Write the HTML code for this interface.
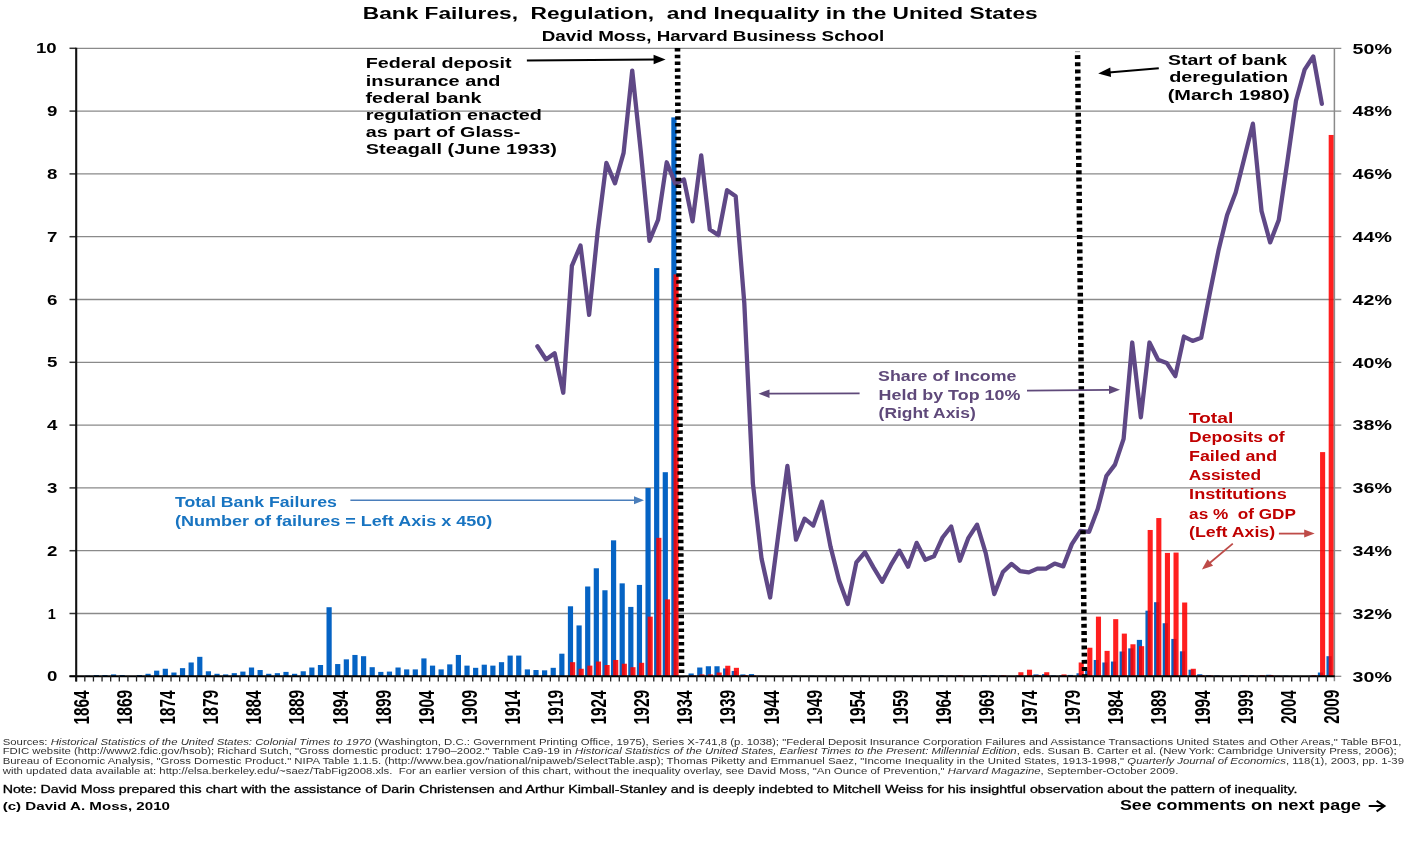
<!DOCTYPE html>
<html><head><meta charset="utf-8"><title>Bank Failures, Regulation, and Inequality in the United States</title>
<style>html,body{margin:0;padding:0;background:#fff}body{width:1405px;height:846px;overflow:hidden;font-family:"Liberation Sans",sans-serif}</style></head>
<body>
<svg width="1405" height="846" viewBox="0 0 1405 846" style="display:block;will-change:transform">
<rect width="1405" height="846" fill="#fff"/>
<line x1="76.2" y1="613.50" x2="1341.30" y2="613.50" stroke="#8a8a8a" stroke-width="1.3"/>
<line x1="76.2" y1="550.70" x2="1341.30" y2="550.70" stroke="#8a8a8a" stroke-width="1.3"/>
<line x1="76.2" y1="487.90" x2="1341.30" y2="487.90" stroke="#8a8a8a" stroke-width="1.3"/>
<line x1="76.2" y1="425.10" x2="1341.30" y2="425.10" stroke="#8a8a8a" stroke-width="1.3"/>
<line x1="76.2" y1="362.30" x2="1341.30" y2="362.30" stroke="#8a8a8a" stroke-width="1.3"/>
<line x1="76.2" y1="299.50" x2="1341.30" y2="299.50" stroke="#8a8a8a" stroke-width="1.3"/>
<line x1="76.2" y1="236.70" x2="1341.30" y2="236.70" stroke="#8a8a8a" stroke-width="1.3"/>
<line x1="76.2" y1="173.90" x2="1341.30" y2="173.90" stroke="#8a8a8a" stroke-width="1.3"/>
<line x1="76.2" y1="111.10" x2="1341.30" y2="111.10" stroke="#8a8a8a" stroke-width="1.3"/>
<line x1="76.2" y1="48.30" x2="1341.30" y2="48.30" stroke="#8a8a8a" stroke-width="1.3"/>
<line x1="69.5" y1="676.30" x2="76.2" y2="676.30" stroke="#333" stroke-width="1.5"/>
<line x1="69.5" y1="613.50" x2="76.2" y2="613.50" stroke="#333" stroke-width="1.5"/>
<line x1="69.5" y1="550.70" x2="76.2" y2="550.70" stroke="#333" stroke-width="1.5"/>
<line x1="69.5" y1="487.90" x2="76.2" y2="487.90" stroke="#333" stroke-width="1.5"/>
<line x1="69.5" y1="425.10" x2="76.2" y2="425.10" stroke="#333" stroke-width="1.5"/>
<line x1="69.5" y1="362.30" x2="76.2" y2="362.30" stroke="#333" stroke-width="1.5"/>
<line x1="69.5" y1="299.50" x2="76.2" y2="299.50" stroke="#333" stroke-width="1.5"/>
<line x1="69.5" y1="236.70" x2="76.2" y2="236.70" stroke="#333" stroke-width="1.5"/>
<line x1="69.5" y1="173.90" x2="76.2" y2="173.90" stroke="#333" stroke-width="1.5"/>
<line x1="69.5" y1="111.10" x2="76.2" y2="111.10" stroke="#333" stroke-width="1.5"/>
<line x1="69.5" y1="48.30" x2="76.2" y2="48.30" stroke="#333" stroke-width="1.5"/>
<g fill="#0563c4"><rect x="76.50" y="675.99" width="5.2" height="0.31"/><rect x="85.12" y="675.67" width="5.2" height="0.63"/><rect x="93.74" y="675.04" width="5.2" height="1.26"/><rect x="102.36" y="675.04" width="5.2" height="1.26"/><rect x="110.98" y="674.42" width="5.2" height="1.88"/><rect x="119.60" y="675.04" width="5.2" height="1.26"/><rect x="128.22" y="675.99" width="5.2" height="0.31"/><rect x="136.84" y="675.04" width="5.2" height="1.26"/><rect x="145.46" y="673.79" width="5.2" height="2.51"/><rect x="154.08" y="670.65" width="5.2" height="5.65"/><rect x="162.71" y="668.76" width="5.2" height="7.54"/><rect x="171.33" y="672.53" width="5.2" height="3.77"/><rect x="179.95" y="668.14" width="5.2" height="8.16"/><rect x="188.57" y="662.48" width="5.2" height="13.82"/><rect x="197.19" y="656.83" width="5.2" height="19.47"/><rect x="205.81" y="671.28" width="5.2" height="5.02"/><rect x="214.43" y="673.79" width="5.2" height="2.51"/><rect x="223.05" y="674.42" width="5.2" height="1.88"/><rect x="231.67" y="673.16" width="5.2" height="3.14"/><rect x="240.29" y="671.59" width="5.2" height="4.71"/><rect x="248.91" y="667.51" width="5.2" height="8.79"/><rect x="257.53" y="670.02" width="5.2" height="6.28"/><rect x="266.15" y="673.79" width="5.2" height="2.51"/><rect x="274.77" y="673.16" width="5.2" height="3.14"/><rect x="283.39" y="671.90" width="5.2" height="4.40"/><rect x="292.01" y="673.79" width="5.2" height="2.51"/><rect x="300.63" y="671.28" width="5.2" height="5.02"/><rect x="309.25" y="667.51" width="5.2" height="8.79"/><rect x="317.88" y="665.00" width="5.2" height="11.30"/><rect x="326.50" y="607.22" width="5.2" height="69.08"/><rect x="335.12" y="664.05" width="5.2" height="12.25"/><rect x="343.74" y="659.34" width="5.2" height="16.96"/><rect x="352.36" y="654.95" width="5.2" height="21.35"/><rect x="360.98" y="656.20" width="5.2" height="20.10"/><rect x="369.60" y="667.19" width="5.2" height="9.11"/><rect x="378.22" y="671.90" width="5.2" height="4.40"/><rect x="386.84" y="671.59" width="5.2" height="4.71"/><rect x="395.46" y="667.51" width="5.2" height="8.79"/><rect x="404.08" y="669.39" width="5.2" height="6.91"/><rect x="412.70" y="669.39" width="5.2" height="6.91"/><rect x="421.32" y="658.40" width="5.2" height="17.90"/><rect x="429.94" y="665.62" width="5.2" height="10.68"/><rect x="438.56" y="669.39" width="5.2" height="6.91"/><rect x="447.18" y="664.37" width="5.2" height="11.93"/><rect x="455.80" y="654.95" width="5.2" height="21.35"/><rect x="464.42" y="665.62" width="5.2" height="10.68"/><rect x="473.05" y="667.82" width="5.2" height="8.48"/><rect x="481.67" y="664.68" width="5.2" height="11.62"/><rect x="490.29" y="665.62" width="5.2" height="10.68"/><rect x="498.91" y="662.17" width="5.2" height="14.13"/><rect x="507.53" y="655.58" width="5.2" height="20.72"/><rect x="516.15" y="655.58" width="5.2" height="20.72"/><rect x="524.77" y="669.39" width="5.2" height="6.91"/><rect x="533.39" y="670.02" width="5.2" height="6.28"/><rect x="542.01" y="670.33" width="5.2" height="5.97"/><rect x="550.63" y="667.82" width="5.2" height="8.48"/><rect x="559.25" y="653.69" width="5.2" height="22.61"/><rect x="567.87" y="606.28" width="5.2" height="70.02"/><rect x="576.49" y="625.43" width="5.2" height="50.87"/><rect x="585.11" y="586.50" width="5.2" height="89.80"/><rect x="593.73" y="568.28" width="5.2" height="108.02"/><rect x="602.35" y="590.26" width="5.2" height="86.04"/><rect x="610.97" y="540.34" width="5.2" height="135.96"/><rect x="619.59" y="583.36" width="5.2" height="92.94"/><rect x="628.22" y="606.91" width="5.2" height="69.39"/><rect x="636.84" y="584.93" width="5.2" height="91.37"/><rect x="645.46" y="487.90" width="5.2" height="188.40"/><rect x="654.08" y="268.10" width="5.2" height="408.20"/><rect x="662.70" y="472.20" width="5.2" height="204.10"/><rect x="671.32" y="117.38" width="5.2" height="558.92"/><rect x="688.56" y="673.47" width="5.2" height="2.83"/><rect x="697.18" y="667.51" width="5.2" height="8.79"/><rect x="705.80" y="666.25" width="5.2" height="10.05"/><rect x="714.42" y="666.25" width="5.2" height="10.05"/><rect x="723.04" y="668.45" width="5.2" height="7.85"/><rect x="731.66" y="670.96" width="5.2" height="5.34"/><rect x="740.28" y="674.42" width="5.2" height="1.88"/><rect x="748.90" y="674.10" width="5.2" height="2.20"/><rect x="757.52" y="675.80" width="5.2" height="0.50"/><rect x="766.14" y="676.05" width="5.2" height="0.25"/><rect x="792.01" y="675.67" width="5.2" height="0.63"/><rect x="800.63" y="675.92" width="5.2" height="0.38"/><rect x="809.25" y="675.67" width="5.2" height="0.63"/><rect x="817.87" y="675.80" width="5.2" height="0.50"/><rect x="826.49" y="675.67" width="5.2" height="0.63"/><rect x="835.11" y="675.92" width="5.2" height="0.38"/><rect x="843.73" y="675.67" width="5.2" height="0.63"/><rect x="852.35" y="675.80" width="5.2" height="0.50"/><rect x="860.97" y="675.67" width="5.2" height="0.63"/><rect x="869.59" y="675.92" width="5.2" height="0.38"/><rect x="878.21" y="675.92" width="5.2" height="0.38"/><rect x="886.83" y="675.67" width="5.2" height="0.63"/><rect x="895.45" y="675.80" width="5.2" height="0.50"/><rect x="904.07" y="676.05" width="5.2" height="0.25"/><rect x="912.69" y="675.67" width="5.2" height="0.63"/><rect x="921.31" y="676.05" width="5.2" height="0.25"/><rect x="929.93" y="676.05" width="5.2" height="0.25"/><rect x="938.55" y="675.30" width="5.2" height="1.00"/><rect x="947.18" y="675.67" width="5.2" height="0.63"/><rect x="955.80" y="675.42" width="5.2" height="0.88"/><rect x="964.42" y="675.80" width="5.2" height="0.50"/><rect x="973.04" y="675.92" width="5.2" height="0.38"/><rect x="981.66" y="675.17" width="5.2" height="1.13"/><rect x="990.28" y="675.30" width="5.2" height="1.00"/><rect x="998.90" y="675.42" width="5.2" height="0.88"/><rect x="1007.52" y="675.92" width="5.2" height="0.38"/><rect x="1016.14" y="675.42" width="5.2" height="0.88"/><rect x="1024.76" y="675.67" width="5.2" height="0.63"/><rect x="1033.38" y="674.42" width="5.2" height="1.88"/><rect x="1042.00" y="674.10" width="5.2" height="2.20"/><rect x="1050.62" y="675.42" width="5.2" height="0.88"/><rect x="1059.24" y="675.30" width="5.2" height="1.00"/><rect x="1067.86" y="674.92" width="5.2" height="1.38"/><rect x="1076.48" y="673.29" width="5.2" height="3.01"/><rect x="1085.10" y="670.77" width="5.2" height="5.53"/><rect x="1093.72" y="659.97" width="5.2" height="16.33"/><rect x="1102.35" y="662.48" width="5.2" height="13.82"/><rect x="1110.97" y="661.54" width="5.2" height="14.76"/><rect x="1119.59" y="651.49" width="5.2" height="24.81"/><rect x="1128.21" y="648.35" width="5.2" height="27.95"/><rect x="1136.83" y="639.88" width="5.2" height="36.42"/><rect x="1145.45" y="610.67" width="5.2" height="65.63"/><rect x="1154.07" y="602.20" width="5.2" height="74.10"/><rect x="1162.69" y="623.23" width="5.2" height="53.07"/><rect x="1171.31" y="638.93" width="5.2" height="37.37"/><rect x="1179.93" y="651.31" width="5.2" height="24.99"/><rect x="1188.55" y="669.71" width="5.2" height="6.59"/><rect x="1197.17" y="674.29" width="5.2" height="2.01"/><rect x="1205.79" y="675.17" width="5.2" height="1.13"/><rect x="1214.41" y="675.42" width="5.2" height="0.88"/><rect x="1223.03" y="676.05" width="5.2" height="0.25"/><rect x="1231.65" y="675.80" width="5.2" height="0.50"/><rect x="1240.27" y="675.17" width="5.2" height="1.13"/><rect x="1248.89" y="675.30" width="5.2" height="1.00"/><rect x="1257.52" y="675.67" width="5.2" height="0.63"/><rect x="1266.14" y="674.79" width="5.2" height="1.51"/><rect x="1274.76" y="675.80" width="5.2" height="0.50"/><rect x="1283.38" y="675.67" width="5.2" height="0.63"/><rect x="1309.24" y="675.80" width="5.2" height="0.50"/><rect x="1317.86" y="672.53" width="5.2" height="3.77"/><rect x="1326.48" y="656.20" width="5.2" height="20.10"/></g>
<g fill="#ff0000" fill-opacity="0.88"><rect x="570.07" y="662.17" width="5.1" height="14.13"/><rect x="578.69" y="668.76" width="5.1" height="7.54"/><rect x="587.31" y="665.62" width="5.1" height="10.68"/><rect x="595.93" y="661.54" width="5.1" height="14.76"/><rect x="604.55" y="665.00" width="5.1" height="11.30"/><rect x="613.17" y="659.97" width="5.1" height="16.33"/><rect x="621.79" y="663.74" width="5.1" height="12.56"/><rect x="630.42" y="667.19" width="5.1" height="9.11"/><rect x="639.04" y="662.80" width="5.1" height="13.50"/><rect x="647.66" y="616.64" width="5.1" height="59.66"/><rect x="656.28" y="537.83" width="5.1" height="138.47"/><rect x="664.90" y="599.37" width="5.1" height="76.93"/><rect x="673.52" y="274.38" width="5.1" height="401.92"/><rect x="690.76" y="675.55" width="5.1" height="0.75"/><rect x="699.38" y="674.42" width="5.1" height="1.88"/><rect x="708.00" y="674.42" width="5.1" height="1.88"/><rect x="716.62" y="672.53" width="5.1" height="3.77"/><rect x="725.24" y="665.75" width="5.1" height="10.55"/><rect x="733.86" y="667.82" width="5.1" height="8.48"/><rect x="742.48" y="675.17" width="5.1" height="1.13"/><rect x="751.10" y="675.55" width="5.1" height="0.75"/><rect x="759.72" y="675.92" width="5.1" height="0.38"/><rect x="940.75" y="675.92" width="5.1" height="0.38"/><rect x="949.38" y="675.80" width="5.1" height="0.50"/><rect x="958.00" y="675.42" width="5.1" height="0.88"/><rect x="966.62" y="676.05" width="5.1" height="0.25"/><rect x="983.86" y="675.92" width="5.1" height="0.38"/><rect x="992.48" y="675.80" width="5.1" height="0.50"/><rect x="1001.10" y="675.42" width="5.1" height="0.88"/><rect x="1009.72" y="676.05" width="5.1" height="0.25"/><rect x="1018.34" y="672.22" width="5.1" height="4.08"/><rect x="1026.96" y="669.71" width="5.1" height="6.59"/><rect x="1035.58" y="674.92" width="5.1" height="1.38"/><rect x="1044.20" y="672.22" width="5.1" height="4.08"/><rect x="1052.82" y="675.92" width="5.1" height="0.38"/><rect x="1061.44" y="674.42" width="5.1" height="1.88"/><rect x="1070.06" y="675.92" width="5.1" height="0.38"/><rect x="1078.68" y="662.48" width="5.1" height="13.82"/><rect x="1087.30" y="647.73" width="5.1" height="28.57"/><rect x="1095.92" y="616.64" width="5.1" height="59.66"/><rect x="1104.55" y="650.87" width="5.1" height="25.43"/><rect x="1113.17" y="619.15" width="5.1" height="57.15"/><rect x="1121.79" y="633.60" width="5.1" height="42.70"/><rect x="1130.41" y="644.27" width="5.1" height="32.03"/><rect x="1139.03" y="646.16" width="5.1" height="30.14"/><rect x="1147.65" y="529.98" width="5.1" height="146.32"/><rect x="1156.27" y="518.04" width="5.1" height="158.26"/><rect x="1164.89" y="552.90" width="5.1" height="123.40"/><rect x="1173.51" y="552.58" width="5.1" height="123.72"/><rect x="1182.13" y="602.51" width="5.1" height="73.79"/><rect x="1190.75" y="668.76" width="5.1" height="7.54"/><rect x="1199.37" y="675.30" width="5.1" height="1.00"/><rect x="1207.99" y="675.55" width="5.1" height="0.75"/><rect x="1216.61" y="675.92" width="5.1" height="0.38"/><rect x="1233.85" y="676.05" width="5.1" height="0.25"/><rect x="1242.47" y="675.55" width="5.1" height="0.75"/><rect x="1251.09" y="675.92" width="5.1" height="0.38"/><rect x="1259.72" y="675.30" width="5.1" height="1.00"/><rect x="1268.34" y="675.04" width="5.1" height="1.26"/><rect x="1276.96" y="675.92" width="5.1" height="0.38"/><rect x="1311.44" y="675.30" width="5.1" height="1.00"/><rect x="1320.06" y="452.10" width="5.1" height="224.20"/><rect x="1328.68" y="134.96" width="5.1" height="541.34"/></g>
<line x1="1334.40" y1="48.30" x2="1334.40" y2="681.30" stroke="#8a8a8a" stroke-width="1.5"/>
<line x1="1334.80" y1="676.30" x2="1341.30" y2="676.30" stroke="#8a8a8a" stroke-width="1.3"/>
<line x1="69.5" y1="676.3" x2="1334.80" y2="676.3" stroke="#000" stroke-width="2"/>
<path d="M76.20 676.3V681.60M84.82 676.3V681.60M93.44 676.3V681.60M102.06 676.3V681.60M110.68 676.3V681.60M119.30 676.3V681.60M127.92 676.3V681.60M136.54 676.3V681.60M145.16 676.3V681.60M153.78 676.3V681.60M162.41 676.3V681.60M171.03 676.3V681.60M179.65 676.3V681.60M188.27 676.3V681.60M196.89 676.3V681.60M205.51 676.3V681.60M214.13 676.3V681.60M222.75 676.3V681.60M231.37 676.3V681.60M239.99 676.3V681.60M248.61 676.3V681.60M257.23 676.3V681.60M265.85 676.3V681.60M274.47 676.3V681.60M283.09 676.3V681.60M291.71 676.3V681.60M300.33 676.3V681.60M308.95 676.3V681.60M317.58 676.3V681.60M326.20 676.3V681.60M334.82 676.3V681.60M343.44 676.3V681.60M352.06 676.3V681.60M360.68 676.3V681.60M369.30 676.3V681.60M377.92 676.3V681.60M386.54 676.3V681.60M395.16 676.3V681.60M403.78 676.3V681.60M412.40 676.3V681.60M421.02 676.3V681.60M429.64 676.3V681.60M438.26 676.3V681.60M446.88 676.3V681.60M455.50 676.3V681.60M464.12 676.3V681.60M472.75 676.3V681.60M481.37 676.3V681.60M489.99 676.3V681.60M498.61 676.3V681.60M507.23 676.3V681.60M515.85 676.3V681.60M524.47 676.3V681.60M533.09 676.3V681.60M541.71 676.3V681.60M550.33 676.3V681.60M558.95 676.3V681.60M567.57 676.3V681.60M576.19 676.3V681.60M584.81 676.3V681.60M593.43 676.3V681.60M602.05 676.3V681.60M610.67 676.3V681.60M619.29 676.3V681.60M627.92 676.3V681.60M636.54 676.3V681.60M645.16 676.3V681.60M653.78 676.3V681.60M662.40 676.3V681.60M671.02 676.3V681.60M679.64 676.3V681.60M688.26 676.3V681.60M696.88 676.3V681.60M705.50 676.3V681.60M714.12 676.3V681.60M722.74 676.3V681.60M731.36 676.3V681.60M739.98 676.3V681.60M748.60 676.3V681.60M757.22 676.3V681.60M765.84 676.3V681.60M774.46 676.3V681.60M783.08 676.3V681.60M791.71 676.3V681.60M800.33 676.3V681.60M808.95 676.3V681.60M817.57 676.3V681.60M826.19 676.3V681.60M834.81 676.3V681.60M843.43 676.3V681.60M852.05 676.3V681.60M860.67 676.3V681.60M869.29 676.3V681.60M877.91 676.3V681.60M886.53 676.3V681.60M895.15 676.3V681.60M903.77 676.3V681.60M912.39 676.3V681.60M921.01 676.3V681.60M929.63 676.3V681.60M938.25 676.3V681.60M946.88 676.3V681.60M955.50 676.3V681.60M964.12 676.3V681.60M972.74 676.3V681.60M981.36 676.3V681.60M989.98 676.3V681.60M998.60 676.3V681.60M1007.22 676.3V681.60M1015.84 676.3V681.60M1024.46 676.3V681.60M1033.08 676.3V681.60M1041.70 676.3V681.60M1050.32 676.3V681.60M1058.94 676.3V681.60M1067.56 676.3V681.60M1076.18 676.3V681.60M1084.80 676.3V681.60M1093.42 676.3V681.60M1102.05 676.3V681.60M1110.67 676.3V681.60M1119.29 676.3V681.60M1127.91 676.3V681.60M1136.53 676.3V681.60M1145.15 676.3V681.60M1153.77 676.3V681.60M1162.39 676.3V681.60M1171.01 676.3V681.60M1179.63 676.3V681.60M1188.25 676.3V681.60M1196.87 676.3V681.60M1205.49 676.3V681.60M1214.11 676.3V681.60M1222.73 676.3V681.60M1231.35 676.3V681.60M1239.97 676.3V681.60M1248.59 676.3V681.60M1257.22 676.3V681.60M1265.84 676.3V681.60M1274.46 676.3V681.60M1283.08 676.3V681.60M1291.70 676.3V681.60M1300.32 676.3V681.60M1308.94 676.3V681.60M1317.56 676.3V681.60M1326.18 676.3V681.60" stroke="#222" stroke-width="1.3" fill="none"/>
<line x1="76.2" y1="47.70" x2="76.2" y2="681.60" stroke="#111" stroke-width="2.1"/>
<polyline points="537.40,346.29 546.02,359.47 554.64,353.19 563.26,392.76 571.88,265.90 580.50,245.49 589.12,314.89 597.74,230.73 606.36,162.91 614.98,183.32 623.60,152.86 632.23,70.59 640.85,151.92 649.47,240.78 658.09,219.74 666.71,162.28 675.33,183.63 683.95,179.55 692.57,221.31 701.19,155.37 709.81,229.48 718.43,235.13 727.05,190.23 735.67,196.19 744.29,302.95 752.91,483.82 761.53,558.55 770.15,597.49 778.77,531.23 787.40,465.92 796.02,539.71 804.64,518.67 813.26,525.58 821.88,501.72 830.50,546.62 839.12,580.53 847.74,604.08 856.36,562.32 864.98,552.27 873.60,567.66 882.22,581.79 890.84,565.14 899.46,550.70 908.08,566.71 916.70,542.85 925.32,559.81 933.94,556.35 942.57,537.51 951.19,526.52 959.81,560.75 968.43,537.83 977.05,524.64 985.67,552.90 994.29,594.03 1002.91,572.05 1011.53,563.89 1020.15,571.11 1028.77,572.37 1037.39,568.60 1046.01,568.60 1054.63,563.57 1063.25,566.40 1071.87,544.11 1080.49,530.92 1089.11,531.86 1097.73,508.94 1106.36,475.97 1114.98,464.66 1123.60,438.92 1132.22,342.52 1140.84,417.25 1149.46,342.52 1158.08,359.79 1166.70,362.93 1175.32,376.12 1183.94,336.55 1192.56,340.95 1201.18,337.81 1209.80,293.22 1218.42,250.83 1227.04,215.35 1235.66,192.43 1244.28,158.20 1252.90,123.66 1261.53,210.95 1270.15,242.35 1278.77,220.06 1287.39,161.34 1296.01,100.74 1304.63,69.65 1313.25,56.46 1321.87,103.88" fill="none" stroke="#5f4886" stroke-width="4.3" stroke-linejoin="round" stroke-linecap="round"/>
<line x1="677.5" y1="47.9" x2="681.6" y2="677.3" stroke="#000" stroke-width="5.6" stroke-dasharray="3.5 3.33"/>
<line x1="1077.6" y1="55.1" x2="1084.6" y2="677.3" stroke="#000" stroke-width="5.5" stroke-dasharray="3.9 3.3"/>
<line x1="1075" y1="51.6" x2="1080" y2="51.6" stroke="#aaa" stroke-width="1.2"/>
<line x1="526.90" y1="60.50" x2="655.60" y2="59.48" stroke="#000" stroke-width="2.0"/>
<polygon points="665.60,59.40 653.64,64.25 653.56,54.75" fill="#000"/>
<line x1="1158.80" y1="68.20" x2="1108.66" y2="72.50" stroke="#000" stroke-width="2.0"/>
<polygon points="1098.20,73.40 1110.25,67.60 1111.06,77.06" fill="#000"/>
<line x1="859.60" y1="393.40" x2="767.50" y2="393.67" stroke="#5f497a" stroke-width="1.8"/>
<polygon points="758.50,393.70 769.49,389.42 769.51,397.92" fill="#5f497a"/>
<line x1="1027.00" y1="390.60" x2="1111.00" y2="389.79" stroke="#5f497a" stroke-width="1.8"/>
<polygon points="1120.00,389.70 1109.04,394.06 1108.96,385.56" fill="#5f497a"/>
<line x1="350.40" y1="500.30" x2="636.00" y2="500.30" stroke="#4a7ebb" stroke-width="1.6"/>
<polygon points="644.00,500.30 634.00,504.30 634.00,496.30" fill="#4a7ebb"/>
<line x1="1278.90" y1="533.60" x2="1306.20" y2="533.60" stroke="#be4b48" stroke-width="1.8"/>
<polygon points="1314.70,533.60 1304.20,537.60 1304.20,529.60" fill="#be4b48"/>
<line x1="1232.80" y1="543.60" x2="1208.79" y2="563.81" stroke="#be4b48" stroke-width="1.8"/>
<polygon points="1201.90,569.60 1207.58,559.27 1213.05,565.77" fill="#be4b48"/>
<text x="362.75" y="18.50" font-family="Liberation Sans" font-size="16.8" font-weight="bold" font-style="normal" fill="#000" textLength="674.90" lengthAdjust="spacingAndGlyphs" xml:space="preserve">Bank Failures,  Regulation,  and Inequality in the United States</text>
<text x="541.80" y="41.00" font-family="Liberation Sans" font-size="14.8" font-weight="bold" font-style="normal" fill="#000" textLength="342.44" lengthAdjust="spacingAndGlyphs" xml:space="preserve">David Moss, Harvard Business School</text>
<text x="365.80" y="68.20" font-family="Liberation Sans" font-size="14" font-weight="bold" font-style="normal" fill="#000" textLength="145.72" lengthAdjust="spacingAndGlyphs" xml:space="preserve">Federal deposit</text>
<text x="365.80" y="85.60" font-family="Liberation Sans" font-size="14" font-weight="bold" font-style="normal" fill="#000" textLength="134.68" lengthAdjust="spacingAndGlyphs" xml:space="preserve">insurance and</text>
<text x="365.50" y="102.60" font-family="Liberation Sans" font-size="14" font-weight="bold" font-style="normal" fill="#000" textLength="116.00" lengthAdjust="spacingAndGlyphs" xml:space="preserve">federal bank</text>
<text x="365.80" y="119.50" font-family="Liberation Sans" font-size="14" font-weight="bold" font-style="normal" fill="#000" textLength="176.08" lengthAdjust="spacingAndGlyphs" xml:space="preserve">regulation enacted</text>
<text x="365.80" y="136.70" font-family="Liberation Sans" font-size="14" font-weight="bold" font-style="normal" fill="#000" textLength="154.62" lengthAdjust="spacingAndGlyphs" xml:space="preserve">as part of Glass-</text>
<text x="365.80" y="153.90" font-family="Liberation Sans" font-size="14" font-weight="bold" font-style="normal" fill="#000" textLength="191.14" lengthAdjust="spacingAndGlyphs" xml:space="preserve">Steagall (June 1933)</text>
<text x="1168.00" y="65.20" font-family="Liberation Sans" font-size="14" font-weight="bold" font-style="normal" fill="#000" textLength="119.00" lengthAdjust="spacingAndGlyphs" xml:space="preserve">Start of bank</text>
<text x="1169.20" y="82.40" font-family="Liberation Sans" font-size="14" font-weight="bold" font-style="normal" fill="#000" textLength="118.88" lengthAdjust="spacingAndGlyphs" xml:space="preserve">deregulation</text>
<text x="1167.70" y="99.60" font-family="Liberation Sans" font-size="14" font-weight="bold" font-style="normal" fill="#000" textLength="122.04" lengthAdjust="spacingAndGlyphs" xml:space="preserve">(March 1980)</text>
<text x="878.10" y="380.60" font-family="Liberation Sans" font-size="14" font-weight="bold" font-style="normal" fill="#5f497a" textLength="138.33" lengthAdjust="spacingAndGlyphs" xml:space="preserve">Share of Income</text>
<text x="878.60" y="399.70" font-family="Liberation Sans" font-size="14" font-weight="bold" font-style="normal" fill="#5f497a" textLength="141.70" lengthAdjust="spacingAndGlyphs" xml:space="preserve">Held by Top 10%</text>
<text x="878.60" y="418.20" font-family="Liberation Sans" font-size="14" font-weight="bold" font-style="normal" fill="#5f497a" textLength="97.12" lengthAdjust="spacingAndGlyphs" xml:space="preserve">(Right Axis)</text>
<text x="174.90" y="506.70" font-family="Liberation Sans" font-size="14.3" font-weight="bold" font-style="normal" fill="#1874c1" textLength="161.94" lengthAdjust="spacingAndGlyphs" xml:space="preserve">Total Bank Failures</text>
<text x="174.90" y="526.30" font-family="Liberation Sans" font-size="14.3" font-weight="bold" font-style="normal" fill="#1874c1" textLength="317.50" lengthAdjust="spacingAndGlyphs" xml:space="preserve">(Number of failures = Left Axis x 450)</text>
<text x="1188.70" y="422.80" font-family="Liberation Sans" font-size="14" font-weight="bold" font-style="normal" fill="#c00000" textLength="44.63" lengthAdjust="spacingAndGlyphs" xml:space="preserve">Total</text>
<text x="1189.10" y="441.90" font-family="Liberation Sans" font-size="14" font-weight="bold" font-style="normal" fill="#c00000" textLength="95.38" lengthAdjust="spacingAndGlyphs" xml:space="preserve">Deposits of</text>
<text x="1189.10" y="461.10" font-family="Liberation Sans" font-size="14" font-weight="bold" font-style="normal" fill="#c00000" textLength="88.00" lengthAdjust="spacingAndGlyphs" xml:space="preserve">Failed and</text>
<text x="1188.70" y="480.20" font-family="Liberation Sans" font-size="14" font-weight="bold" font-style="normal" fill="#c00000" textLength="72.38" lengthAdjust="spacingAndGlyphs" xml:space="preserve">Assisted</text>
<text x="1189.10" y="499.40" font-family="Liberation Sans" font-size="14" font-weight="bold" font-style="normal" fill="#c00000" textLength="97.62" lengthAdjust="spacingAndGlyphs" xml:space="preserve">Institutions</text>
<text x="1189.10" y="518.50" font-family="Liberation Sans" font-size="14" font-weight="bold" font-style="normal" fill="#c00000" textLength="106.81" lengthAdjust="spacingAndGlyphs" xml:space="preserve">as %  of GDP</text>
<text x="1189.10" y="537.20" font-family="Liberation Sans" font-size="14" font-weight="bold" font-style="normal" fill="#c00000" textLength="86.03" lengthAdjust="spacingAndGlyphs" xml:space="preserve">(Left Axis)</text>
<text x="2.70" y="810.30" font-family="Liberation Sans" font-size="11.7" font-weight="bold" font-style="normal" fill="#000" textLength="167.26" lengthAdjust="spacingAndGlyphs" xml:space="preserve">(c) David A. Moss, 2010</text>
<text x="1119.90" y="810.20" font-family="Liberation Sans" font-size="14.6" font-weight="bold" font-style="normal" fill="#000" textLength="241.14" lengthAdjust="spacingAndGlyphs" xml:space="preserve">See comments on next page</text>
<text x="2.70" y="792.50" font-family="Liberation Sans" font-size="10.3" font-weight="normal" font-style="normal" fill="#000" stroke="#000" stroke-width="0.28" textLength="1294.79" lengthAdjust="spacingAndGlyphs" xml:space="preserve">Note: David Moss prepared this chart with the assistance of Darin Christensen and Arthur Kimball-Stanley and is deeply indebted to Mitchell Weiss for his insightful observation about the pattern of inequality.</text>
<text x="47.10" y="681.45" font-family="Liberation Sans" font-size="14.4" font-weight="bold" font-style="normal" fill="#000" textLength="10.40" lengthAdjust="spacingAndGlyphs" xml:space="preserve">0</text>
<text x="47.70" y="618.65" font-family="Liberation Sans" font-size="14.4" font-weight="bold" font-style="normal" fill="#000" textLength="8.10" lengthAdjust="spacingAndGlyphs" xml:space="preserve">1</text>
<text x="47.10" y="555.85" font-family="Liberation Sans" font-size="14.4" font-weight="bold" font-style="normal" fill="#000" textLength="10.40" lengthAdjust="spacingAndGlyphs" xml:space="preserve">2</text>
<text x="47.10" y="493.05" font-family="Liberation Sans" font-size="14.4" font-weight="bold" font-style="normal" fill="#000" textLength="10.40" lengthAdjust="spacingAndGlyphs" xml:space="preserve">3</text>
<text x="47.10" y="430.25" font-family="Liberation Sans" font-size="14.4" font-weight="bold" font-style="normal" fill="#000" textLength="10.40" lengthAdjust="spacingAndGlyphs" xml:space="preserve">4</text>
<text x="47.10" y="367.45" font-family="Liberation Sans" font-size="14.4" font-weight="bold" font-style="normal" fill="#000" textLength="10.40" lengthAdjust="spacingAndGlyphs" xml:space="preserve">5</text>
<text x="47.10" y="304.65" font-family="Liberation Sans" font-size="14.4" font-weight="bold" font-style="normal" fill="#000" textLength="10.40" lengthAdjust="spacingAndGlyphs" xml:space="preserve">6</text>
<text x="47.10" y="241.85" font-family="Liberation Sans" font-size="14.4" font-weight="bold" font-style="normal" fill="#000" textLength="10.40" lengthAdjust="spacingAndGlyphs" xml:space="preserve">7</text>
<text x="47.10" y="179.05" font-family="Liberation Sans" font-size="14.4" font-weight="bold" font-style="normal" fill="#000" textLength="10.40" lengthAdjust="spacingAndGlyphs" xml:space="preserve">8</text>
<text x="47.10" y="116.25" font-family="Liberation Sans" font-size="14.4" font-weight="bold" font-style="normal" fill="#000" textLength="10.40" lengthAdjust="spacingAndGlyphs" xml:space="preserve">9</text>
<text x="36.00" y="53.45" font-family="Liberation Sans" font-size="14.4" font-weight="bold" font-style="normal" fill="#000" textLength="20.70" lengthAdjust="spacingAndGlyphs" xml:space="preserve">10</text>
<text x="1352.60" y="681.55" font-family="Liberation Sans" font-size="14.6" font-weight="bold" font-style="normal" fill="#000" textLength="39.27" lengthAdjust="spacingAndGlyphs" xml:space="preserve">30%</text>
<text x="1352.60" y="618.75" font-family="Liberation Sans" font-size="14.6" font-weight="bold" font-style="normal" fill="#000" textLength="39.27" lengthAdjust="spacingAndGlyphs" xml:space="preserve">32%</text>
<text x="1352.60" y="555.95" font-family="Liberation Sans" font-size="14.6" font-weight="bold" font-style="normal" fill="#000" textLength="39.27" lengthAdjust="spacingAndGlyphs" xml:space="preserve">34%</text>
<text x="1352.60" y="493.15" font-family="Liberation Sans" font-size="14.6" font-weight="bold" font-style="normal" fill="#000" textLength="39.27" lengthAdjust="spacingAndGlyphs" xml:space="preserve">36%</text>
<text x="1352.60" y="430.35" font-family="Liberation Sans" font-size="14.6" font-weight="bold" font-style="normal" fill="#000" textLength="39.27" lengthAdjust="spacingAndGlyphs" xml:space="preserve">38%</text>
<text x="1352.60" y="367.55" font-family="Liberation Sans" font-size="14.6" font-weight="bold" font-style="normal" fill="#000" textLength="39.27" lengthAdjust="spacingAndGlyphs" xml:space="preserve">40%</text>
<text x="1352.60" y="304.75" font-family="Liberation Sans" font-size="14.6" font-weight="bold" font-style="normal" fill="#000" textLength="39.27" lengthAdjust="spacingAndGlyphs" xml:space="preserve">42%</text>
<text x="1352.60" y="241.95" font-family="Liberation Sans" font-size="14.6" font-weight="bold" font-style="normal" fill="#000" textLength="39.27" lengthAdjust="spacingAndGlyphs" xml:space="preserve">44%</text>
<text x="1352.60" y="179.15" font-family="Liberation Sans" font-size="14.6" font-weight="bold" font-style="normal" fill="#000" textLength="39.27" lengthAdjust="spacingAndGlyphs" xml:space="preserve">46%</text>
<text x="1352.60" y="116.35" font-family="Liberation Sans" font-size="14.6" font-weight="bold" font-style="normal" fill="#000" textLength="39.27" lengthAdjust="spacingAndGlyphs" xml:space="preserve">48%</text>
<text x="1352.60" y="53.55" font-family="Liberation Sans" font-size="14.6" font-weight="bold" font-style="normal" fill="#000" textLength="39.27" lengthAdjust="spacingAndGlyphs" xml:space="preserve">50%</text>
<text x="2.70" y="744.50" font-family="Liberation Sans" font-size="8.9" font-style="normal" fill="#333" textLength="47.97" lengthAdjust="spacingAndGlyphs" xml:space="preserve">Sources: </text>
<text x="50.67" y="744.50" font-family="Liberation Sans" font-size="8.9" font-style="italic" fill="#333" textLength="320.54" lengthAdjust="spacingAndGlyphs" xml:space="preserve">Historical Statistics of the United States: Colonial Times to 1970</text>
<text x="371.21" y="744.50" font-family="Liberation Sans" font-size="8.9" font-style="normal" fill="#333" textLength="1030.19" lengthAdjust="spacingAndGlyphs" xml:space="preserve"> (Washington, D.C.: Government Printing Office, 1975), Series X-741,8 (p. 1038); &quot;Federal Deposit Insurance Corporation Failures and Assistance Transactions United States and Other Areas,&quot; Table BF01,</text>
<text x="2.70" y="754.00" font-family="Liberation Sans" font-size="8.9" font-style="normal" fill="#333" textLength="572.30" lengthAdjust="spacingAndGlyphs" xml:space="preserve">FDIC website (http://www2.fdic.gov/hsob); Richard Sutch, &quot;Gross domestic product: 1790–2002.&quot; Table Ca9-19 in </text>
<text x="575.00" y="754.00" font-family="Liberation Sans" font-size="8.9" font-style="italic" fill="#333" textLength="441.67" lengthAdjust="spacingAndGlyphs" xml:space="preserve">Historical Statistics of the United States, Earliest Times to the Present: Millennial Edition</text>
<text x="1016.67" y="754.00" font-family="Liberation Sans" font-size="8.9" font-style="normal" fill="#333" textLength="380.13" lengthAdjust="spacingAndGlyphs" xml:space="preserve">, eds. Susan B. Carter et al. (New York: Cambridge University Press, 2006);</text>
<text x="2.70" y="763.80" font-family="Liberation Sans" font-size="8.9" font-style="normal" fill="#333" textLength="1124.65" lengthAdjust="spacingAndGlyphs" xml:space="preserve">Bureau of Economic Analysis, &quot;Gross Domestic Product.&quot; NIPA Table 1.1.5. (http://www.bea.gov/national/nipaweb/SelectTable.asp); Thomas Piketty and Emmanuel Saez, &quot;Income Inequality in the United States, 1913-1998,&quot; </text>
<text x="1127.35" y="763.80" font-family="Liberation Sans" font-size="8.9" font-style="italic" fill="#333" textLength="158.64" lengthAdjust="spacingAndGlyphs" xml:space="preserve">Quarterly Journal of Economics</text>
<text x="1285.99" y="763.80" font-family="Liberation Sans" font-size="8.9" font-style="normal" fill="#333" textLength="118.01" lengthAdjust="spacingAndGlyphs" xml:space="preserve">, 118(1), 2003, pp. 1-39</text>
<text x="2.70" y="773.50" font-family="Liberation Sans" font-size="8.9" font-style="normal" fill="#333" textLength="945.11" lengthAdjust="spacingAndGlyphs" xml:space="preserve">with updated data available at: http://elsa.berkeley.edu/~saez/TabFig2008.xls.  For an earlier version of this chart, without the inequality overlay, see David Moss, &quot;An Ounce of Prevention,&quot; </text>
<text x="947.81" y="773.50" font-family="Liberation Sans" font-size="8.9" font-style="italic" fill="#333" textLength="92.82" lengthAdjust="spacingAndGlyphs" xml:space="preserve">Harvard Magazine</text>
<text x="1040.63" y="773.50" font-family="Liberation Sans" font-size="8.9" font-style="normal" fill="#333" textLength="137.67" lengthAdjust="spacingAndGlyphs" xml:space="preserve">, September-October 2009.</text>
<text transform="translate(88.91,723.80) rotate(-90)" x="-0.70" y="0" font-family="Liberation Sans" font-size="22.0" font-weight="bold" fill="#000" textLength="34.06" lengthAdjust="spacingAndGlyphs">1864</text>
<text transform="translate(132.01,723.80) rotate(-90)" x="-0.71" y="0" font-family="Liberation Sans" font-size="22.0" font-weight="bold" fill="#000" textLength="34.78" lengthAdjust="spacingAndGlyphs">1869</text>
<text transform="translate(175.12,723.80) rotate(-90)" x="-0.70" y="0" font-family="Liberation Sans" font-size="22.0" font-weight="bold" fill="#000" textLength="34.06" lengthAdjust="spacingAndGlyphs">1874</text>
<text transform="translate(218.22,723.80) rotate(-90)" x="-0.71" y="0" font-family="Liberation Sans" font-size="22.0" font-weight="bold" fill="#000" textLength="34.78" lengthAdjust="spacingAndGlyphs">1879</text>
<text transform="translate(261.32,723.80) rotate(-90)" x="-0.70" y="0" font-family="Liberation Sans" font-size="22.0" font-weight="bold" fill="#000" textLength="34.06" lengthAdjust="spacingAndGlyphs">1884</text>
<text transform="translate(304.42,723.80) rotate(-90)" x="-0.71" y="0" font-family="Liberation Sans" font-size="22.0" font-weight="bold" fill="#000" textLength="34.78" lengthAdjust="spacingAndGlyphs">1889</text>
<text transform="translate(347.53,723.80) rotate(-90)" x="-0.70" y="0" font-family="Liberation Sans" font-size="22.0" font-weight="bold" fill="#000" textLength="34.06" lengthAdjust="spacingAndGlyphs">1894</text>
<text transform="translate(390.63,723.80) rotate(-90)" x="-0.71" y="0" font-family="Liberation Sans" font-size="22.0" font-weight="bold" fill="#000" textLength="34.78" lengthAdjust="spacingAndGlyphs">1899</text>
<text transform="translate(433.73,723.80) rotate(-90)" x="-0.70" y="0" font-family="Liberation Sans" font-size="22.0" font-weight="bold" fill="#000" textLength="34.06" lengthAdjust="spacingAndGlyphs">1904</text>
<text transform="translate(476.83,723.80) rotate(-90)" x="-0.71" y="0" font-family="Liberation Sans" font-size="22.0" font-weight="bold" fill="#000" textLength="34.78" lengthAdjust="spacingAndGlyphs">1909</text>
<text transform="translate(519.94,723.80) rotate(-90)" x="-0.70" y="0" font-family="Liberation Sans" font-size="22.0" font-weight="bold" fill="#000" textLength="34.06" lengthAdjust="spacingAndGlyphs">1914</text>
<text transform="translate(563.04,723.80) rotate(-90)" x="-0.71" y="0" font-family="Liberation Sans" font-size="22.0" font-weight="bold" fill="#000" textLength="34.78" lengthAdjust="spacingAndGlyphs">1919</text>
<text transform="translate(606.14,723.80) rotate(-90)" x="-0.70" y="0" font-family="Liberation Sans" font-size="22.0" font-weight="bold" fill="#000" textLength="34.06" lengthAdjust="spacingAndGlyphs">1924</text>
<text transform="translate(649.25,723.80) rotate(-90)" x="-0.71" y="0" font-family="Liberation Sans" font-size="22.0" font-weight="bold" fill="#000" textLength="34.78" lengthAdjust="spacingAndGlyphs">1929</text>
<text transform="translate(692.35,723.80) rotate(-90)" x="-0.70" y="0" font-family="Liberation Sans" font-size="22.0" font-weight="bold" fill="#000" textLength="34.06" lengthAdjust="spacingAndGlyphs">1934</text>
<text transform="translate(735.45,723.80) rotate(-90)" x="-0.71" y="0" font-family="Liberation Sans" font-size="22.0" font-weight="bold" fill="#000" textLength="34.78" lengthAdjust="spacingAndGlyphs">1939</text>
<text transform="translate(778.55,723.80) rotate(-90)" x="-0.70" y="0" font-family="Liberation Sans" font-size="22.0" font-weight="bold" fill="#000" textLength="34.06" lengthAdjust="spacingAndGlyphs">1944</text>
<text transform="translate(821.66,723.80) rotate(-90)" x="-0.71" y="0" font-family="Liberation Sans" font-size="22.0" font-weight="bold" fill="#000" textLength="34.78" lengthAdjust="spacingAndGlyphs">1949</text>
<text transform="translate(864.76,723.80) rotate(-90)" x="-0.70" y="0" font-family="Liberation Sans" font-size="22.0" font-weight="bold" fill="#000" textLength="34.06" lengthAdjust="spacingAndGlyphs">1954</text>
<text transform="translate(907.86,723.80) rotate(-90)" x="-0.71" y="0" font-family="Liberation Sans" font-size="22.0" font-weight="bold" fill="#000" textLength="34.78" lengthAdjust="spacingAndGlyphs">1959</text>
<text transform="translate(950.97,723.80) rotate(-90)" x="-0.70" y="0" font-family="Liberation Sans" font-size="22.0" font-weight="bold" fill="#000" textLength="34.06" lengthAdjust="spacingAndGlyphs">1964</text>
<text transform="translate(994.07,723.80) rotate(-90)" x="-0.71" y="0" font-family="Liberation Sans" font-size="22.0" font-weight="bold" fill="#000" textLength="34.78" lengthAdjust="spacingAndGlyphs">1969</text>
<text transform="translate(1037.17,723.80) rotate(-90)" x="-0.70" y="0" font-family="Liberation Sans" font-size="22.0" font-weight="bold" fill="#000" textLength="34.06" lengthAdjust="spacingAndGlyphs">1974</text>
<text transform="translate(1080.27,723.80) rotate(-90)" x="-0.71" y="0" font-family="Liberation Sans" font-size="22.0" font-weight="bold" fill="#000" textLength="34.78" lengthAdjust="spacingAndGlyphs">1979</text>
<text transform="translate(1123.38,723.80) rotate(-90)" x="-0.70" y="0" font-family="Liberation Sans" font-size="22.0" font-weight="bold" fill="#000" textLength="34.06" lengthAdjust="spacingAndGlyphs">1984</text>
<text transform="translate(1166.48,723.80) rotate(-90)" x="-0.71" y="0" font-family="Liberation Sans" font-size="22.0" font-weight="bold" fill="#000" textLength="34.78" lengthAdjust="spacingAndGlyphs">1989</text>
<text transform="translate(1209.58,723.80) rotate(-90)" x="-0.70" y="0" font-family="Liberation Sans" font-size="22.0" font-weight="bold" fill="#000" textLength="34.06" lengthAdjust="spacingAndGlyphs">1994</text>
<text transform="translate(1252.68,723.80) rotate(-90)" x="-0.71" y="0" font-family="Liberation Sans" font-size="22.0" font-weight="bold" fill="#000" textLength="34.78" lengthAdjust="spacingAndGlyphs">1999</text>
<text transform="translate(1295.79,723.80) rotate(-90)" x="0.00" y="0" font-family="Liberation Sans" font-size="22.0" font-weight="bold" fill="#000" textLength="33.38" lengthAdjust="spacingAndGlyphs">2004</text>
<text transform="translate(1338.89,723.80) rotate(-90)" x="0.00" y="0" font-family="Liberation Sans" font-size="22.0" font-weight="bold" fill="#000" textLength="34.06" lengthAdjust="spacingAndGlyphs">2009</text>
<path d="M1368.7 806H1383.6M1376.6 800.8L1384.4 806L1376.6 811.3" fill="none" stroke="#000" stroke-width="2.1" stroke-linejoin="miter"/>
</svg>
</body></html>
